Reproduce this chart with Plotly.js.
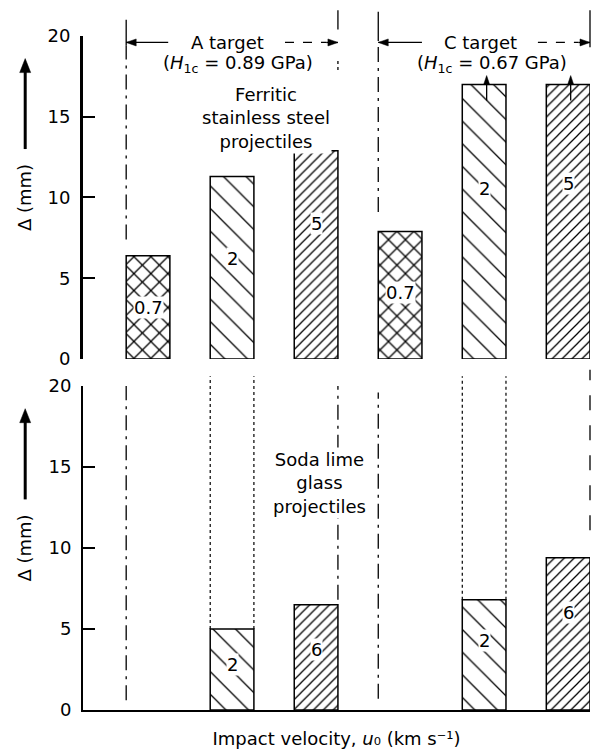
<!DOCTYPE html>
<html>
<head>
<meta charset="utf-8">
<script src="https://cdn.plot.ly/plotly-3.0.1.min.js"></script>
<style>html,body{margin:0;padding:0;background:#fff}#chart{width:600px;height:753px}</style>
</head>
<body>
<div id="chart"></div>
<script>
// ---------------- data ----------------
const steelX = [1, 2, 3, 4, 5, 6];
const steelLabels = ['0.7', '2', '5', '0.7', '2', '5'];
const steelDelta = [6.4, 11.3, 12.9, 7.9, 17, 17];
const steelExceeds = [false, false, false, false, true, true];
const glassX = [2, 3, 5, 6];
const glassLabels = ['2', '6', '2', '6'];
const glassDelta = [5.0, 6.5, 6.8, 9.4];
const yTicks = [0, 5, 10, 15, 20];
const targetNames = ['A target', 'C target'];
const targetH = ['0.89', '0.67'];

// ---------------- style ----------------
const FONT = 'DejaVu Sans, Arial, sans-serif';
const FS = 18;
const BARW = 0.52;
const XR = [0.226, 6.26];
const TOPDOM = [0.5208, 1];
const BOTDOM = [0, 0.4807];
const steelLabelAt = [0.5, 0.55, 0.65, 0.52, 0.62, 0.64];
const glassLabelAt = [0.56, 0.57, 0.63, 0.64];
const patternOf = {
  '0.7': {shape: 'x', size: 12, solidity: 0.2},
  '2': {shape: '\\', size: 16, solidity: 0.08},
  '5': {shape: '/', size: 7, solidity: 0.18},
  '6': {shape: '/', size: 7, solidity: 0.18}
};

function pat(labels, key) { return labels.map(l => patternOf[l][key]); }
function xp(x) { return (x - XR[0]) / (XR[1] - XR[0]); }
function yp(v, dom) { return dom[0] + v / 20 * (dom[1] - dom[0]); }

function barTrace(x, y, labels, xa, ya) {
  return {
    type: 'bar', x: x, y: y, xaxis: xa, yaxis: ya,
    width: x.map(() => BARW),
    marker: {
      color: '#ffffff',
      line: {color: '#000', width: 1.5},
      pattern: {
        shape: pat(labels, 'shape'), size: pat(labels, 'size'),
        solidity: pat(labels, 'solidity'),
        fgcolor: '#000', bgcolor: '#fff', fillmode: 'replace'
      }
    },
    hoverinfo: 'skip', showlegend: false
  };
}

const data = [
  barTrace(steelX, steelDelta, steelLabels, 'x', 'y'),
  barTrace(glassX, glassDelta, glassLabels, 'x2', 'y2')
];

// bar edges used by the guide lines
const L1 = steelX[0] - BARW / 2, R3 = steelX[2] + BARW / 2;
const L4 = steelX[3] - BARW / 2, R6 = steelX[5] + BARW / 2;

const shapes = [];
function vseg(x, y0, y1, dom, dash, w) {
  shapes.push({type: 'line', xref: 'paper', yref: 'paper',
    x0: xp(x), x1: xp(x), y0: yp(y0, dom), y1: yp(y1, dom),
    line: {color: '#000', width: w || 1.3, dash: dash}});
}
function hseg(x0, x1, y, dom, dash, w) {
  shapes.push({type: 'line', xref: 'paper', yref: 'paper',
    x0: xp(x0), x1: xp(x1), y0: yp(y, dom), y1: yp(y, dom),
    line: {color: '#000', width: w || 1.3, dash: dash}});
}
function head(xa, ya, path) {
  shapes.push({type: 'path', xref: 'paper', yref: 'paper',
    xsizemode: 'pixel', ysizemode: 'pixel', xanchor: xa, yanchor: ya,
    path: path, fillcolor: '#000', line: {color: '#000', width: 0.5}});
}
// top panel brackets
vseg(L1, 19.4, 21.0, TOPDOM, 'solid');
vseg(L1, 7.4, 19.4, TOPDOM, 'longdashdot');
vseg(R3, 20.4, 21.6, TOPDOM, 'solid');
vseg(R3, 17.9, 18.6, TOPDOM, 'dot');
vseg(L4, 19.75, 21.5, TOPDOM, 'solid');
vseg(L4, 9.1, 19.75, TOPDOM, 'longdashdot');
vseg(R6, 19.3, 21.6, TOPDOM, 'solid');
// bracket arrows: A target
hseg(L1, L1 + 0.5, 19.6, TOPDOM, 'solid');
head(xp(L1), yp(19.6, TOPDOM), 'M0,0 L10,3.5 L10,-3.5 Z');
hseg(2.63, 3.12, 19.6, TOPDOM, 'dash');
hseg(3.12, R3, 19.6, TOPDOM, 'solid');
head(xp(R3), yp(19.6, TOPDOM), 'M0,0 L-10,3.5 L-10,-3.5 Z');
// bracket arrows: C target
hseg(L4, L4 + 0.52, 19.6, TOPDOM, 'solid');
head(xp(L4), yp(19.6, TOPDOM), 'M0,0 L10,3.5 L10,-3.5 Z');
hseg(5.64, 6.12, 19.6, TOPDOM, 'dash');
hseg(6.12, R6, 19.6, TOPDOM, 'solid');
head(xp(R6), yp(19.6, TOPDOM), 'M0,0 L-10,3.5 L-10,-3.5 Z');
// arrows on capped bars
steelX.forEach((x, i) => {
  if (!steelExceeds[i]) return;
  shapes.push({type: 'line', xref: 'paper', yref: 'paper',
    x0: xp(x + 0.03), x1: xp(x + 0.03), y0: yp(steelDelta[i] - 1.0, TOPDOM), y1: yp(steelDelta[i] + 0.1, TOPDOM),
    line: {color: '#000', width: 1.3}});
  head(xp(x + 0.03), yp(steelDelta[i] + 0.55, TOPDOM), 'M0,0 L-3,-9 L3,-9 Z');
});
// bottom panel guides
vseg(L1, 0.6, 20, BOTDOM, 'longdashdot');
vseg(R3, glassDelta[1] + 0.3, 20, BOTDOM, 'longdashdot');
vseg(L4, 0.7, 19.6, BOTDOM, 'longdashdot');
vseg(R6, 11.1, 21, BOTDOM, 'longdash');
[0, 2].forEach(i => {
  vseg(glassX[i] - BARW / 2, glassDelta[i], 20.6, BOTDOM, 'dot', 1.2);
  vseg(glassX[i] + BARW / 2, glassDelta[i], 20.6, BOTDOM, 'dot', 1.2);
});
// y-title arrows
const TX = -0.114;
[TOPDOM, BOTDOM].forEach(dom => {
  shapes.push({type: 'line', xref: 'paper', yref: 'paper', x0: TX, x1: TX,
    y0: yp(13.0, dom), y1: yp(18.0, dom), line: {color: '#000', width: 3}});
  head(TX, yp(18.6, dom), 'M0,0 L-5.5,-14 L5.5,-14 Z');
});

const font = {family: FONT, size: FS, color: '#000'};
const ann = [];
function txt(text, x, y, xref, yref, extra) {
  ann.push(Object.assign({text: text, x: x, y: y, xref: xref, yref: yref,
    showarrow: false, font: font, align: 'center'}, extra || {}));
}
// in-bar labels
steelX.forEach((x, i) => txt(steelLabels[i], x, steelDelta[i] * steelLabelAt[i], 'x', 'y',
  {bgcolor: '#fff', borderpad: 0}));
glassX.forEach((x, i) => txt(glassLabels[i], x, glassDelta[i] * glassLabelAt[i], 'x2', 'y2',
  {bgcolor: '#fff', borderpad: 0}));
txt(targetNames[0], (L1 + R3) / 2 - 0.05, 19.6, 'x', 'y');
txt(targetNames[1], (L4 + R6) / 2 - 0.04, 19.6, 'x', 'y');
txt('(<i>H</i><sub>1c</sub> = ' + targetH[0] + ' GPa)', (L1 + R3) / 2 + 0.07, 18.27, 'x', 'y');
txt('(<i>H</i><sub>1c</sub> = ' + targetH[1] + ' GPa)', (L4 + R6) / 2 + 0.09, 18.27, 'x', 'y');
txt('Ferritic<br>stainless steel<br>projectiles', 2.4, 14.9, 'x', 'y', {bgcolor: '#fff'});
txt('Soda lime<br>glass<br>projectiles', 3.04, 14.0, 'x2', 'y2', {bgcolor: '#fff'});

const yax = (dom, lw) => ({
  domain: dom, range: [0, 20], tickvals: yTicks, ticktext: yTicks.map(String),
  ticks: 'inside', ticklen: 12, tickwidth: 2, tickcolor: '#000',
  showline: true, linewidth: lw, linecolor: '#000', showgrid: false, zeroline: false,
  tickfont: font, ticklabelstandoff: 6, fixedrange: true,
  title: {text: 'Δ (mm)', font: font, standoff: 12}
});

const layout = {
  width: 600, height: 753,
  margin: {l: 83, r: 10, t: 36, b: 43},
  paper_bgcolor: '#fff', plot_bgcolor: '#fff',
  font: font, showlegend: false,
  xaxis: {domain: [0, 1], range: XR, anchor: 'y', visible: false, fixedrange: true},
  xaxis2: {domain: [0, 1], range: XR, anchor: 'y2', showline: true, linewidth: 2, linecolor: '#000',
    ticks: '', showticklabels: false, showgrid: false, zeroline: false, fixedrange: true,
    title: {text: 'Impact velocity, <i>u</i>₀ (km s⁻¹)', font: font, standoff: 21}},
  yaxis: yax(TOPDOM, 3),
  yaxis2: Object.assign(yax(BOTDOM, 2), {anchor: 'x2'}),
  shapes: shapes,
  annotations: ann
};

Plotly.newPlot('chart', data, layout, {displayModeBar: false, staticPlot: true});
</script>
</body>
</html>
